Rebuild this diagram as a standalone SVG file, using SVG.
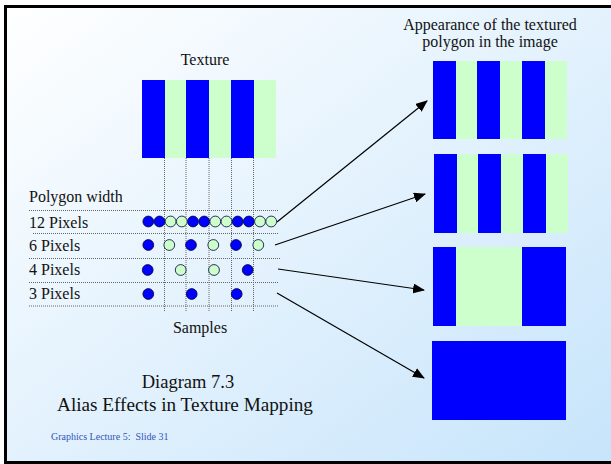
<svg xmlns="http://www.w3.org/2000/svg" width="611" height="464" viewBox="0 0 611 464">
<defs>
<linearGradient id="bg" x1="0" y1="0" x2="1" y2="1">
<stop offset="0" stop-color="#ffffff"/>
<stop offset="1" stop-color="#c6e4fb"/>
</linearGradient>
<marker id="ah" markerWidth="12" markerHeight="10" refX="11" refY="5" orient="auto" markerUnits="userSpaceOnUse">
<path d="M0,0 L12,5 L0,10 Z" fill="#000"/>
</marker>
<style>
text{font-family:'Liberation Serif','Times New Roman',Times,serif;}
.t{fill:#111;}
.m{font-size:16px;}
.b{fill:#0000ff;}
.g{fill:#ccffcc;}
.dot{stroke:#666;stroke-width:1;stroke-dasharray:1,1;fill:none;}
.cb{fill:#0000ff;stroke:#000033;stroke-width:0.8;}
.cg{fill:#ccffcc;stroke:#000033;stroke-width:0.8;}
.arr{stroke:#000;stroke-width:1.2;fill:none;marker-end:url(#ah);}
</style>
</defs>
<rect x="0" y="0" width="611" height="464" fill="#fff"/>
<rect x="5.5" y="6.5" width="620" height="456" fill="url(#bg)" stroke="#000" stroke-width="3"/>

<g id="texture">
<text class="t m" x="205" y="65" text-anchor="middle">Texture</text>
<rect class="b" x="142" y="80" width="23" height="78"/>
<rect class="g" x="165" y="80" width="21" height="78"/>
<rect class="b" x="186" y="80" width="23" height="78"/>
<rect class="g" x="209" y="80" width="22" height="78"/>
<rect class="b" x="231" y="80" width="23" height="78"/>
<rect class="g" x="254" y="80" width="22" height="78"/>
</g>

<g id="grid">
<path class="dot" d="M164.5,158V311M186,158V311M209,158V311M231.5,158V311M253.5,158V311"/>
<path class="dot" d="M29,210.5H278M33,233.5H278M29,258.5H280M29,282.5H279M29,306H278"/>
</g>

<g id="labels">
<text class="t m" x="29" y="202">Polygon width</text>
<text class="t m" x="29" y="228">12 Pixels</text>
<text class="t m" x="29" y="251">6 Pixels</text>
<text class="t m" x="29" y="275">4 Pixels</text>
<text class="t m" x="29" y="299">3 Pixels</text>
<text class="t m" x="200" y="333" text-anchor="middle">Samples</text>
</g>

<g id="samples12">
<circle class="cb" cx="148.3" cy="221.5" r="5.4"/>
<circle class="cb" cx="159.5" cy="221.5" r="5.4"/>
<circle class="cg" cx="170.6" cy="221.5" r="5.4"/>
<circle class="cg" cx="181.8" cy="221.5" r="5.4"/>
<circle class="cb" cx="193" cy="221.5" r="5.4"/>
<circle class="cb" cx="204.2" cy="221.5" r="5.4"/>
<circle class="cg" cx="215.3" cy="221.5" r="5.4"/>
<circle class="cg" cx="226.5" cy="221.5" r="5.4"/>
<circle class="cb" cx="237.7" cy="221.5" r="5.4"/>
<circle class="cb" cx="248.8" cy="221.5" r="5.4"/>
<circle class="cg" cx="260" cy="221.5" r="5.4"/>
<circle class="cg" cx="271.2" cy="221.5" r="5.4"/>
</g>
<g id="samples6">
<circle class="cb" cx="148.3" cy="245" r="5.4"/>
<circle class="cg" cx="169.3" cy="245" r="5.4"/>
<circle class="cb" cx="191" cy="245" r="5.4"/>
<circle class="cg" cx="213.3" cy="245" r="5.4"/>
<circle class="cb" cx="236" cy="245" r="5.4"/>
<circle class="cg" cx="258.3" cy="245" r="5.4"/>
</g>
<g id="samples4">
<circle class="cb" cx="147.7" cy="270" r="5.4"/>
<circle class="cg" cx="180.7" cy="270" r="5.4"/>
<circle class="cg" cx="214" cy="270" r="5.4"/>
<circle class="cb" cx="247.7" cy="270" r="5.4"/>
</g>
<g id="samples3">
<circle class="cb" cx="148.3" cy="294" r="5.4"/>
<circle class="cb" cx="191.7" cy="294" r="5.4"/>
<circle class="cb" cx="236.7" cy="294" r="5.4"/>
</g>

<g id="appearance-title">
<text class="t m" x="490" y="30" text-anchor="middle">Appearance of the textured</text>
<text class="t m" x="490" y="47" text-anchor="middle">polygon in the image</text>
</g>

<g id="image12">
<rect class="b" x="433" y="61" width="23" height="78"/>
<rect class="g" x="456" y="61" width="21" height="78"/>
<rect class="b" x="477" y="61" width="23" height="78"/>
<rect class="g" x="500" y="61" width="22" height="78"/>
<rect class="b" x="522" y="61" width="23" height="78"/>
<rect class="g" x="545" y="61" width="22" height="78"/>
</g>
<g id="image6">
<rect class="b" x="434" y="154" width="23" height="79"/>
<rect class="g" x="457" y="154" width="21" height="79"/>
<rect class="b" x="478" y="154" width="23" height="79"/>
<rect class="g" x="501" y="154" width="22" height="79"/>
<rect class="b" x="523" y="154" width="23" height="79"/>
<rect class="g" x="546" y="154" width="22" height="79"/>
</g>
<g id="image4">
<rect class="b" x="433" y="247" width="23" height="79"/>
<rect class="g" x="456" y="247" width="66" height="79"/>
<rect class="b" x="522" y="247" width="44" height="79"/>
</g>
<g id="image3">
<rect class="b" x="432" y="341" width="134" height="79"/>
</g>

<g id="connectors">
<line class="arr" x1="277" y1="222" x2="427" y2="101"/>
<line class="arr" x1="275" y1="245" x2="425" y2="194"/>
<line class="arr" x1="278" y1="269" x2="424" y2="290"/>
<line class="arr" x1="277" y1="293" x2="424" y2="378"/>
</g>

<g id="caption">
<text class="t" x="188" y="388" text-anchor="middle" font-size="18.5">Diagram 7.3</text>
<text class="t" x="185" y="411" text-anchor="middle" font-size="19.2">Alias Effects in Texture Mapping</text>
<text x="51" y="440" font-size="10" fill="#3355bb" xml:space="preserve">Graphics Lecture 5:  Slide 31</text>
</g>
</svg>
